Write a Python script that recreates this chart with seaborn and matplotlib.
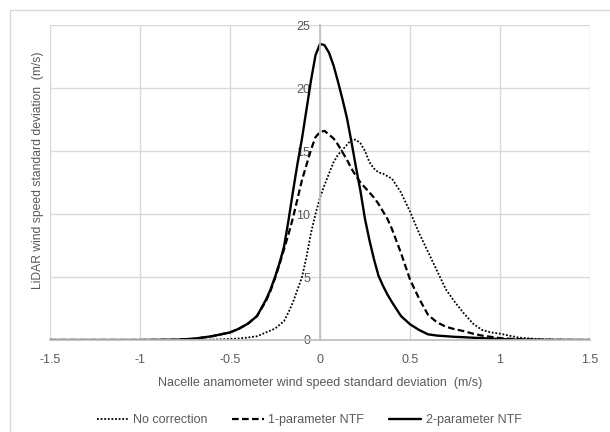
"""Distribution of nacelle vs LiDAR wind speed standard deviation, with and without NTF correction."""

import matplotlib

matplotlib.use("Agg")
import matplotlib.pyplot as plt
import pandas as pd
import seaborn as sns
from matplotlib.patches import Rectangle

X_VALUES = [
    -1.5, -1.0, -0.8, -0.7, -0.6, -0.5, -0.45, -0.4, -0.35,
    -0.3, -0.275, -0.25, -0.225,
    -0.2, -0.175, -0.15, -0.125, -0.1, -0.075, -0.05, -0.025, 0.0,
    0.025, 0.05, 0.075, 0.1, 0.125, 0.15, 0.175, 0.2, 0.225, 0.25,
    0.275, 0.3, 0.325, 0.35, 0.375, 0.4,
    0.45, 0.5, 0.55, 0.6, 0.65, 0.7, 0.75, 0.8, 0.85, 0.9, 0.95, 1.0,
    1.05, 1.1, 1.2, 1.3, 1.5,
]
NO_CORRECTION = [
    0.0, 0.0, 0.0, 0.01, 0.03, 0.08, 0.12, 0.2, 0.3,
    0.6, 0.75, 0.9, 1.2,
    1.5, 2.2, 3.0, 4.0, 5.0, 6.6, 8.5, 10.0, 11.3,
    12.3, 13.2, 14.1, 14.7, 15.1, 15.5, 15.9, 15.9, 15.6, 15.0,
    14.1, 13.6, 13.3, 13.2, 13.0, 12.8,
    11.7, 10.2, 8.5, 7.0, 5.5, 4.0, 3.0, 2.1, 1.3, 0.8, 0.6, 0.5,
    0.35, 0.2, 0.08, 0.03, 0.0,
]
ONE_PARAM_NTF = [
    0.0, 0.0, 0.02, 0.1, 0.3, 0.6, 0.9, 1.3, 1.9,
    3.1, 3.9, 4.9, 6.0,
    7.2, 8.4, 9.7, 11.2, 12.7, 13.9, 15.1, 16.1, 16.5,
    16.6, 16.3, 16.0, 15.5, 14.9, 14.3, 13.6, 13.0, 12.5, 12.1,
    11.7, 11.3, 10.8, 10.2, 9.6, 8.8,
    6.9, 4.8, 3.3, 2.0, 1.4, 1.05, 0.85, 0.7, 0.5, 0.35, 0.25, 0.15,
    0.1, 0.07, 0.03, 0.01, 0.0,
]
TWO_PARAM_NTF = [
    0.0, 0.0, 0.02, 0.1, 0.3, 0.6, 0.9, 1.3, 1.9,
    3.2, 4.0, 5.0, 6.1,
    7.4, 9.5, 11.8, 14.0, 16.0, 18.3, 20.6, 22.6, 23.5,
    23.4, 22.8, 21.8, 20.5, 19.1, 17.6, 15.7, 13.7, 11.8, 9.6,
    7.9, 6.4, 5.1, 4.3, 3.6, 3.0,
    1.9, 1.25, 0.8, 0.45, 0.35, 0.3, 0.25, 0.22, 0.18, 0.15, 0.1, 0.08,
    0.05, 0.03, 0.01, 0.0, 0.0,
]

SERIES = ["No correction", "1-parameter NTF", "2-parameter NTF"]
STYLES = {
    "No correction": dict(linestyle=(0, (1, 1)), linewidth=1.3),
    "1-parameter NTF": dict(linestyle=(0, (3, 1.5)), linewidth=1.6),
    "2-parameter NTF": dict(linestyle="-", linewidth=1.7),
}
X_TICKS = [-1.5, -1.0, -0.5, 0.0, 0.5, 1.0, 1.5]
X_TICK_LABELS = ["-1.5", "-1", "-0.5", "0", "0.5", "1", "1.5"]
Y_TICKS = [0, 5, 10, 15, 20, 25]

TEXT = "#595959"
GRID = "#d9d9d9"


def main() -> None:
    sns.set_theme(style="white")
    plt.rcParams["font.family"] = ["Liberation Sans", "DejaVu Sans"]

    df = pd.DataFrame(
        {
            "x": X_VALUES,
            "No correction": NO_CORRECTION,
            "1-parameter NTF": ONE_PARAM_NTF,
            "2-parameter NTF": TWO_PARAM_NTF,
        }
    )

    fig = plt.figure(figsize=(6.1, 4.32), dpi=100)
    ax = fig.add_axes([50 / 610, 92 / 432, 540 / 610, 315 / 432])

    fig.patches.append(
        Rectangle((10 / 610, -0.1), 1.2, 1.077, transform=fig.transFigure,
                  fill=False, edgecolor=GRID, linewidth=1.0)
    )

    for name in SERIES:
        sns.lineplot(data=df, x="x", y=name, ax=ax, color="black", label=name,
                     **STYLES[name])

    ax.set_xlim(-1.5, 1.5)
    ax.set_ylim(0, 25)
    ax.set_xticks(X_TICKS, labels=X_TICK_LABELS)
    ax.set_yticks(Y_TICKS)
    ax.grid(True, color=GRID, linewidth=1.0)
    ax.set_axisbelow(True)

    for side in ["top", "right"]:
        ax.spines[side].set_visible(False)
    ax.spines["left"].set_position(("data", 0))
    ax.spines["left"].set_color("#bfbfbf")
    ax.spines["bottom"].set_color("#bfbfbf")

    ax.tick_params(axis="x", length=0, pad=10, labelsize=9, labelcolor=TEXT)
    ax.tick_params(axis="y", length=0, pad=7, labelsize=9, labelcolor=TEXT)

    ax.set_xlabel("Nacelle anamometer wind speed standard deviation  (m/s)",
                  fontsize=9, color=TEXT, labelpad=8)
    ax.set_ylabel("LiDAR wind speed standard deviation  (m/s)", fontsize=8.7, color=TEXT)
    ax.yaxis.set_label_coords(-0.012, 0.54)

    handles, labels = ax.get_legend_handles_labels()
    ax.get_legend().remove()
    fig.legend(handles, labels, loc="center", bbox_to_anchor=(309 / 610, 1 - 420 / 432),
               ncol=3, frameon=False, fontsize=9, labelcolor=TEXT,
               handlelength=2.5, handletextpad=0.4, columnspacing=2.0)

    fig.savefig("out.png", dpi=100)
    plt.close(fig)


if __name__ == "__main__":
    main()
